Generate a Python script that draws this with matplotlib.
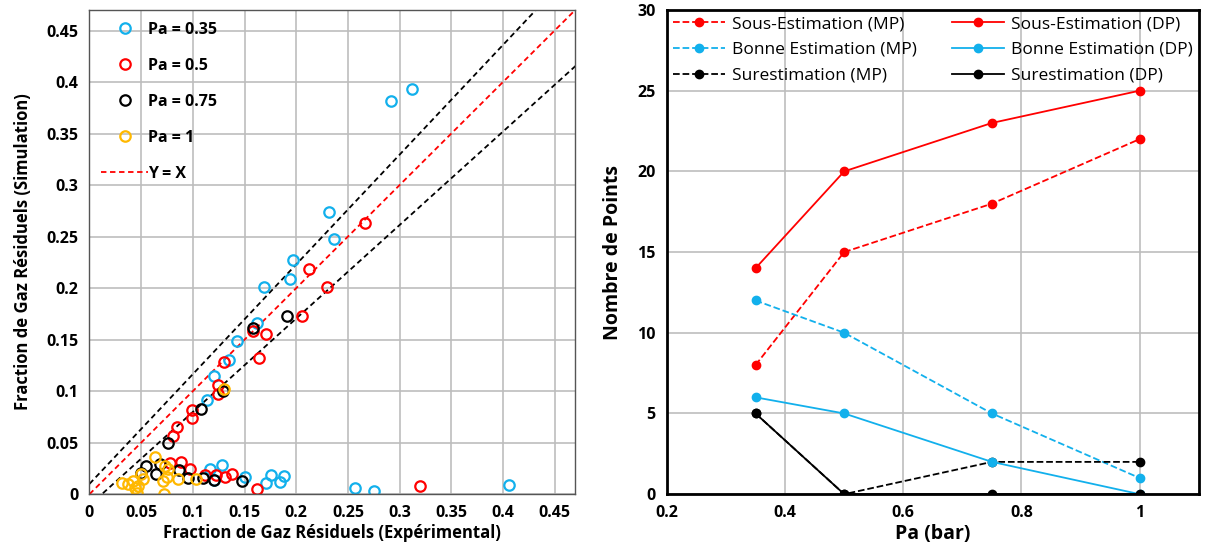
import matplotlib
matplotlib.use("Agg")
import matplotlib.pyplot as plt
import numpy as np

plt.rcParams['font.family'] = ['Open Sans', 'DejaVu Sans']

# --- scatter data (experimental vs simulation) ---
x_035 = [0.292, 0.312, 0.232, 0.237, 0.197, 0.194, 0.169, 0.162, 0.143, 0.135, 0.120, 0.114,
         0.117, 0.128, 0.120, 0.150, 0.171, 0.176, 0.184, 0.188, 0.257, 0.275, 0.406]
y_035 = [0.382, 0.393, 0.274, 0.248, 0.227, 0.209, 0.201, 0.166, 0.149, 0.130, 0.115, 0.091,
         0.024, 0.028, 0.014, 0.017, 0.011, 0.019, 0.012, 0.018, 0.006, 0.003, 0.009]
x_05 = [0.267, 0.212, 0.230, 0.206, 0.158, 0.171, 0.164, 0.130, 0.124, 0.124, 0.099, 0.099, 0.085, 0.081,
        0.078, 0.089, 0.097, 0.112, 0.122, 0.131, 0.138, 0.162, 0.320]
y_05 = [0.263, 0.219, 0.201, 0.173, 0.158, 0.155, 0.132, 0.128, 0.106, 0.097, 0.082, 0.074, 0.065, 0.056,
        0.030, 0.031, 0.024, 0.019, 0.019, 0.017, 0.020, 0.005, 0.008]
x_075 = [0.191, 0.158, 0.129, 0.108, 0.076, 0.055, 0.050, 0.068, 0.064, 0.087, 0.095, 0.110, 0.120, 0.148]
y_075 = [0.173, 0.161, 0.100, 0.083, 0.050, 0.027, 0.021, 0.029, 0.020, 0.023, 0.016, 0.016, 0.014, 0.013]
x_1 = [0.130, 0.063, 0.073, 0.076, 0.075, 0.086, 0.103, 0.031, 0.037, 0.042, 0.044, 0.047, 0.050,
       0.046, 0.072, 0.071, 0.052]
y_1 = [0.102, 0.036, 0.027, 0.024, 0.017, 0.015, 0.015, 0.011, 0.010, 0.013, 0.006, 0.008, 0.020,
       0.001, 0.000, 0.013, 0.015]

# --- counts per Pa ---
pa = [0.35, 0.5, 0.75, 1.0]
sous_mp = [8, 15, 18, 22]
sous_dp = [14, 20, 23, 25]
bonne_mp = [12, 10, 5, 1]
bonne_dp = [6, 5, 2, 0]
sur_mp = [5, 0, 2, 2]
sur_dp = [5, 0, 0, 0]

BLUE = '#12b0ec'
RED = '#ff0000'
YELLOW = '#ffb800'
GRID = '#bdbdbd'

fig = plt.figure(figsize=(12.06, 5.54), dpi=100)

# ---------------- left: scatter ----------------
ax1 = fig.add_axes([0.0742, 0.108, 0.4028, 0.874])
mk = dict(marker='o', linestyle='none', markerfacecolor='none', markersize=7.5, markeredgewidth=1.6)
ax1.plot(x_035, y_035, color=BLUE, label='Pa = 0.35', **mk)
ax1.plot(x_05, y_05, color=RED, label='Pa = 0.5', **mk)
ax1.plot(x_075, y_075, color='black', label='Pa = 0.75', **mk)
ax1.plot(x_1, y_1, color=YELLOW, label='Pa = 1', **mk)

xx = np.array([0, 0.5])
ax1.plot(xx, xx, '--', color=RED, lw=1.3, dashes=(3, 2), label='Y = X', zorder=1)
ax1.plot(xx, 0.01 + 1.065 * xx, '--', color='black', lw=1.3, dashes=(3, 2), zorder=1)
ax1.plot(xx, 0.907 * (xx - 0.012), '--', color='black', lw=1.3, dashes=(3, 2), zorder=1)

ax1.set_xlim(0, 0.47)
ax1.set_ylim(0, 0.47)
ticks = np.arange(0, 0.46, 0.05)
ax1.set_xticks(ticks)
ax1.set_yticks(ticks)
ax1.set_xticklabels(['0', '0.05', '0.1', '0.15', '0.2', '0.25', '0.3', '0.35', '0.4', '0.45'])
ax1.set_yticklabels(['0', '0.05', '0.1', '0.15', '0.2', '0.25', '0.3', '0.35', '0.4', '0.45'])
ax1.grid(True, color=GRID, lw=1.2, zorder=0)
ax1.set_axisbelow(True)
ax1.tick_params(length=0, labelsize=11.5, pad=8)
for lab in ax1.get_xticklabels() + ax1.get_yticklabels():
    lab.set_fontweight('bold')
for s in ax1.spines.values():
    s.set_color('#555555')
    s.set_linewidth(1.0)
ax1.set_xlabel('Fraction de Gaz Résiduels (Expérimental)', fontsize=12, fontweight='bold', labelpad=2)
ax1.set_ylabel('Fraction de Gaz Résiduels (Simulation)', fontsize=12, fontweight='bold', labelpad=10)
leg1 = ax1.legend(loc='upper left', frameon=True, fancybox=False, framealpha=0, edgecolor='#333333',
                  prop={'weight': 'bold', 'size': 11.5}, handlelength=2.9, labelspacing=1.25,
                  borderpad=0.75, borderaxespad=0, handletextpad=0.0)
leg1.get_frame().set_linewidth(1.0)

# ---------------- right: counts ----------------
ax2 = fig.add_axes([0.553, 0.108, 0.441, 0.874])
lm = dict(marker='o', markersize=6, lw=1.3)
ax2.plot(pa, sous_mp, '--', color=RED, label='Sous-Estimation (MP)', **lm)
ax2.plot(pa, bonne_mp, '--', color=BLUE, label='Bonne Estimation (MP)', **lm)
ax2.plot(pa, sur_mp, '--', color='black', label='Surestimation (MP)', **lm)
ax2.plot(pa, sous_dp, '-', color=RED, label='Sous-Estimation (DP)', **lm)
ax2.plot(pa, bonne_dp, '-', color=BLUE, label='Bonne Estimation (DP)', **lm)
ax2.plot(pa, sur_dp, '-', color='black', label='Surestimation (DP)', **lm)

ax2.set_xlim(0.2, 1.1)
ax2.set_ylim(0, 30)
ax2.set_xticks([0.2, 0.4, 0.6, 0.8, 1.0])
ax2.set_xticklabels(['0.2', '0.4', '0.6', '0.8', '1'])
ax2.set_yticks([0, 5, 10, 15, 20, 25, 30])
ax2.grid(True, color=GRID, lw=1.2, zorder=0)
ax2.set_axisbelow(True)
ax2.tick_params(length=0, labelsize=11.5, pad=8)
for lab in ax2.get_xticklabels() + ax2.get_yticklabels():
    lab.set_fontweight('bold')
for s in ax2.spines.values():
    s.set_color('black')
    s.set_linewidth(2.0)
ax2.set_xlabel('Pa (bar)', fontsize=14, fontweight='bold', labelpad=2)
ax2.set_ylabel('Nombre de Points', fontsize=14, fontweight='bold', labelpad=10)
leg2 = ax2.legend(loc='upper left', ncol=2, mode='expand', bbox_to_anchor=(0, 1, 1, 0),
                  frameon=True, fancybox=False, framealpha=0, edgecolor='black',
                  prop={'size': 12.5}, handlelength=3.0, columnspacing=1.5,
                  labelspacing=0.55, borderpad=0.35, borderaxespad=0, handletextpad=0.4)
leg2.get_frame().set_linewidth(1.0)

fig.savefig('out.png', dpi=100)
